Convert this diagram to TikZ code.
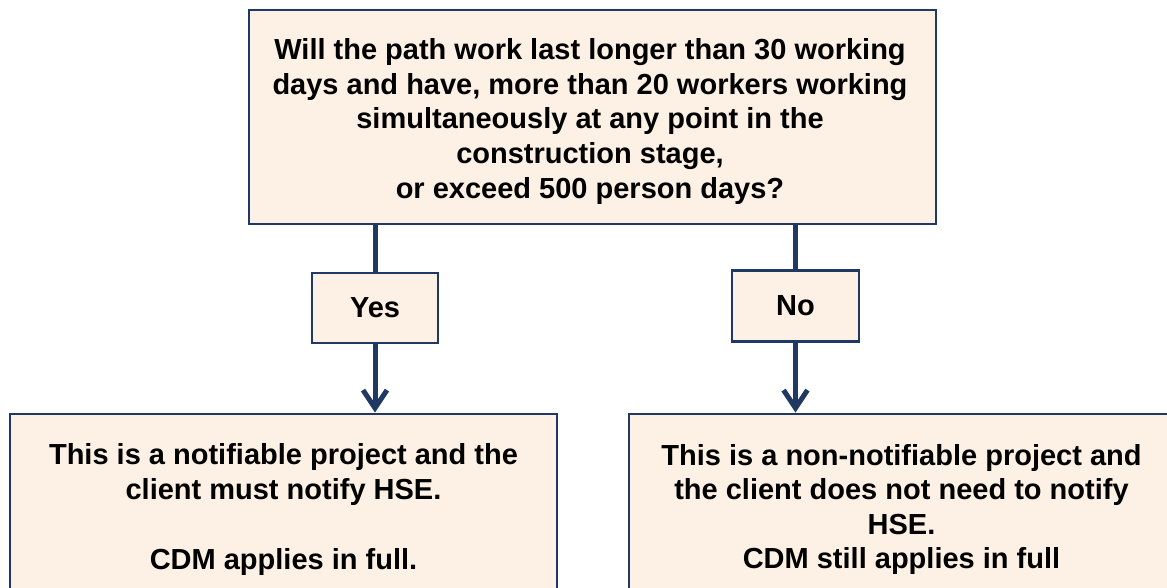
\documentclass[tikz,border=0pt]{standalone}
\usepackage{fontspec}
\setmainfont{Liberation Sans}
\usetikzlibrary{arrows.meta}
\definecolor{boxfill}{HTML}{FDF0E4}
\definecolor{boxline}{HTML}{1F3864}
\begin{document}
\begin{tikzpicture}[x=1pt,y=-1pt,
  box/.style={draw=boxline, fill=boxfill, line width=2.8pt, rectangle, inner sep=0pt,
    align=center, font=\bfseries\fontsize{29}{34.6}\selectfont},
  txt/.style={inner sep=0pt, align=center, font=\bfseries\fontsize{29}{34.6}\selectfont},
  conn/.style={draw=boxline, line width=5pt},
  arr/.style={conn, -{Straight Barb[length=18pt,width=24pt]}}]
\useasboundingbox (0,0) rectangle (1167,588);
\clip (0,0) rectangle (1167,588);
\fill[white] (0,0) rectangle (1167,588);
\node[box, minimum width=687pt, minimum height=214pt] (q) at (592.5,117) {};
\node[txt] (qtext) at (590,121.5)
  {Will the path work last longer than 30 working\\
   days and have, more than 20 workers working\\
   simultaneously at any point in the\\
   construction stage,\\
   or exceed 500 person days?};
\node[box, minimum width=126pt, minimum height=70pt] (yes) at (375,308) {Yes};
\node[box, minimum width=127pt, minimum height=71pt] (no) at (795.5,306) {No};
\node[box, minimum width=547pt, minimum height=186pt] (left) at (283.5,507) {};
\node[txt] (lefttext) at (283.5,509.5)
  {This is a notifiable project and the\\
   client must notify HSE.\\[35.4pt]
   CDM applies in full.};
\node[box, minimum width=571pt, minimum height=206pt] (right) at (914.5,517) {};
\node[txt] (righttext) at (901.5,509.5)
  {This is a non-notifiable project and\\
   the client does not need to notify\\
   HSE.\\
   CDM still applies in full};
\draw[conn] (q.south -| yes.north) -- (yes.north);
\draw[conn] (q.south -| no.north) -- (no.north);
\draw[arr] (yes.south) -- (yes.south |- left.north);
\draw[arr] (no.south) -- (no.south |- right.north);
\end{tikzpicture}
\end{document}
